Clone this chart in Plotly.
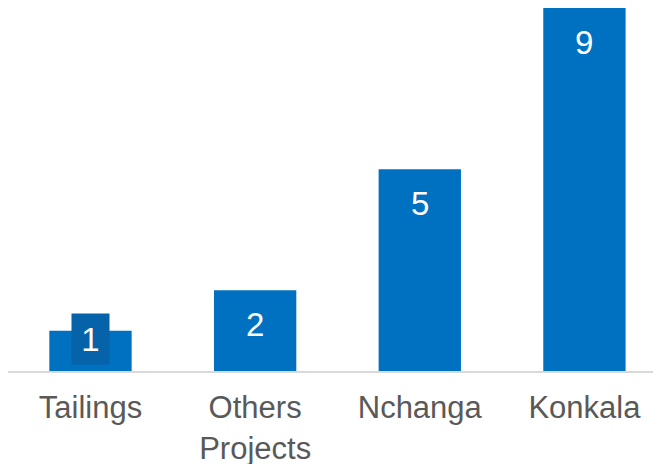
import plotly.graph_objects as go

categories = ["Tailings", "Others<br>Projects", "Nchanga", "Konkala"]
values = [1, 2, 5, 9]
labels = ["1", "2", "5", "9"]

BAR = "#0070C0"
BOX = "#0662A9"

fig = go.Figure()
fig.add_trace(go.Bar(
    x=categories, y=values, width=0.5,
    marker=dict(color=BAR, line=dict(width=0)),
    hoverinfo="skip",
))

for i, (c, v, t) in enumerate(zip(categories, values, labels)):
    if i == 0:
        fig.add_annotation(
            x=c, y=v, xref="x", yref="y", text=t, showarrow=False,
            yanchor="middle", yshift=-8, xshift=0,
            width=37, height=50, borderpad=0, bgcolor=BOX,
            font=dict(family="Liberation Sans, Arial", size=33, color="white"),
        )
    else:
        fig.add_annotation(
            x=c, y=v, xref="x", yref="y", text=t, showarrow=False,
            yanchor="middle", yshift=-34,
            font=dict(family="Liberation Sans, Arial", size=33, color="white"),
        )

# page body has an 8px default margin, so the figure is offset by (8, 8)
fig.update_layout(
    width=653, height=456,
    margin=dict(l=0, r=0, t=0, b=93, autoexpand=False),
    paper_bgcolor="white", plot_bgcolor="white",
    showlegend=False,
    bargap=0.5,
)
fig.update_xaxes(
    range=[-0.501, 3.465], automargin=False,
    showgrid=False, zeroline=False,
    showline=True, linecolor="#D9D9D9", linewidth=2,
    ticks="", ticklabelstandoff=8,
    tickfont=dict(family="Liberation Sans, Arial", size=31, color="#595959"),
)
fig.update_yaxes(
    range=[0, 9], showgrid=False, zeroline=False, showline=False,
    showticklabels=False, ticks="", automargin=False,
)

fig.write_html("out.html")
